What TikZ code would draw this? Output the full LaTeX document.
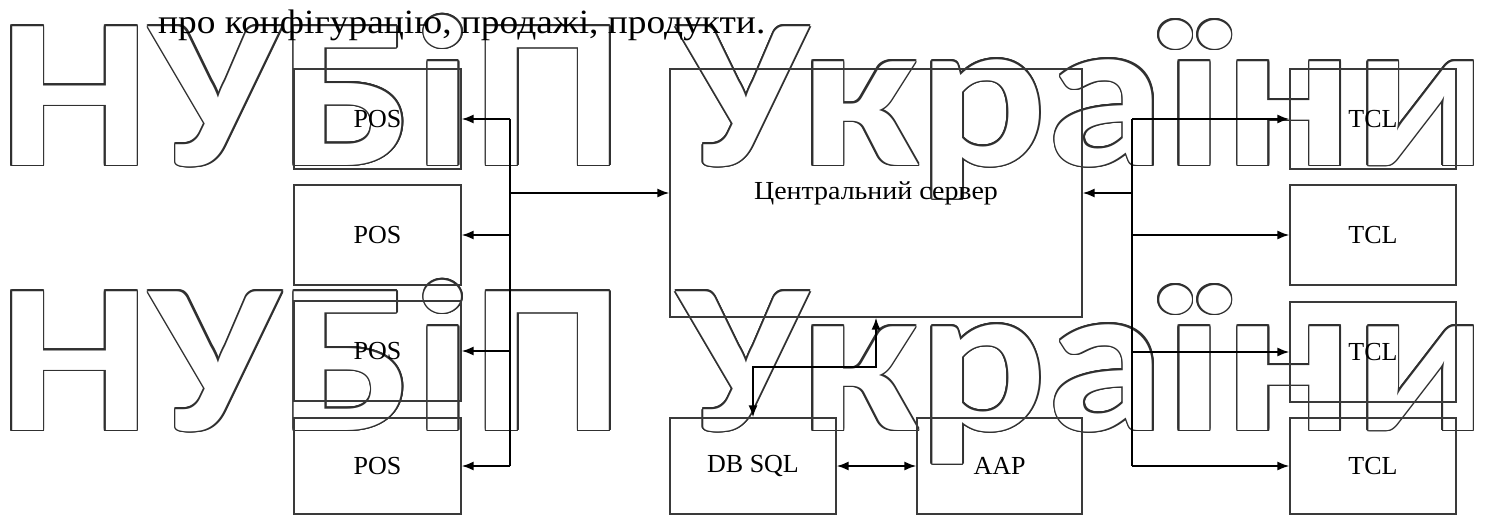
\documentclass[tikz,border=0pt]{standalone}
\usepackage{fontspec}
\usepackage{graphicx}
\setmainfont{Liberation Serif}
\newfontfamily\wmfont{Carlito}
\usetikzlibrary{arrows.meta}
\definecolor{wmgray}{HTML}{303030}
\definecolor{boxgray}{HTML}{3A3A3A}
\newcommand{\wmtext}{\scalebox{1.118}[1]{\wmfont\bfseries\fontsize{214}{214}\selectfont НУБіП України}}
\begin{document}
\begin{tikzpicture}[x=1pt,y=-1pt,
  box/.style={draw=boxgray, line width=1.1pt, inner sep=0pt, font=\fontsize{26}{30}\selectfont},
  conn/.style={draw=black, line width=2pt},
  arr/.style={conn, -{Latex[length=12pt,width=9pt]}},
  darr/.style={conn, {Latex[length=12pt,width=9pt]}-{Latex[length=12pt,width=9pt]}},
  wm/.style={anchor=base west, inner sep=0pt, outer sep=0pt}]
\useasboundingbox[fill=white] (0,0) rectangle (1506,516);
% watermark
\coordinate (w1) at (-1,165);
\coordinate (w2) at (-1,430);
\foreach \a in {0,22.5,...,337.5}{
  \node[wm, text=wmgray, xshift={1.6*cos(\a)}, yshift={1.6*sin(\a)}] at (w1) {\wmtext};
  \node[wm, text=wmgray, xshift={1.6*cos(\a)}, yshift={1.6*sin(\a)}] at (w2) {\wmtext};
}
\node[wm, text=white] (wm1) at (w1) {\wmtext};
\node[wm, text=white] (wm2) at (w2) {\wmtext};
% top text
\node[anchor=base west, inner sep=0pt] (top) at (158,34) {\scalebox{1.1}[1]{\fontsize{34}{38}\selectfont про конфігурацію, продажі, продукти.}};
% boxes
\node[box, minimum width=167pt, minimum height=100pt] (pos1) at (377.5,119) {POS};
\node[box, minimum width=167pt, minimum height=100pt] (pos2) at (377.5,235) {POS};
\node[box, minimum width=167pt, minimum height=100pt] (pos3) at (377.5,351) {POS};
\node[box, minimum width=167pt, minimum height=96pt] (pos4) at (377.5,466) {POS};
\node[box, minimum width=166pt, minimum height=100pt] (tcl1) at (1373,119) {TCL};
\node[box, minimum width=166pt, minimum height=100pt] (tcl2) at (1373,235) {TCL};
\node[box, minimum width=166pt, minimum height=100pt] (tcl3) at (1373,352) {TCL};
\node[box, minimum width=166pt, minimum height=96pt] (tcl4) at (1373,466) {TCL};
\node[box, minimum width=412pt, minimum height=248pt] (srv) at (876,193) {\scalebox{1.075}[1]{Центральний сервер}};
\node[box, minimum width=166pt, minimum height=96pt] (db) at (753,466) {DB SQL};
\node[box, minimum width=165pt, minimum height=96pt] (aap) at (999.5,466) {AAP};
% left bus
\coordinate (lb1) at (510,119);
\coordinate (lb4) at (510,466);
\coordinate (lbs) at (510,193);
\draw[conn] (lb1) -- (lb4);
\draw[arr] (lb1) -- (pos1.east);
\draw[arr] (lbs) -- (srv.west);
\draw[arr] (lbs |- pos2.east) -- (pos2.east);
\draw[arr] (lbs |- pos3.east) -- (pos3.east);
\draw[arr] (lb4) -- (pos4.east);
% right bus
\coordinate (rb1) at (1132,119);
\coordinate (rb4) at (1132,466);
\coordinate (rbs) at (1132,193);
\draw[conn] (rb1) -- (rb4);
\draw[arr] (rb1) -- (tcl1.west);
\draw[arr] (rbs) -- (srv.east);
\draw[arr] (rbs |- tcl2.west) -- (tcl2.west);
\draw[arr] (rbs |- tcl3.west) -- (tcl3.west);
\draw[arr] (rb4) -- (tcl4.west);
% bottom
\coordinate (bm) at (876,367);
\draw[darr] (srv.south) -- (bm) -| (db.north);
\draw[darr] (db.east) -- (aap.west);
\end{tikzpicture}
\end{document}
